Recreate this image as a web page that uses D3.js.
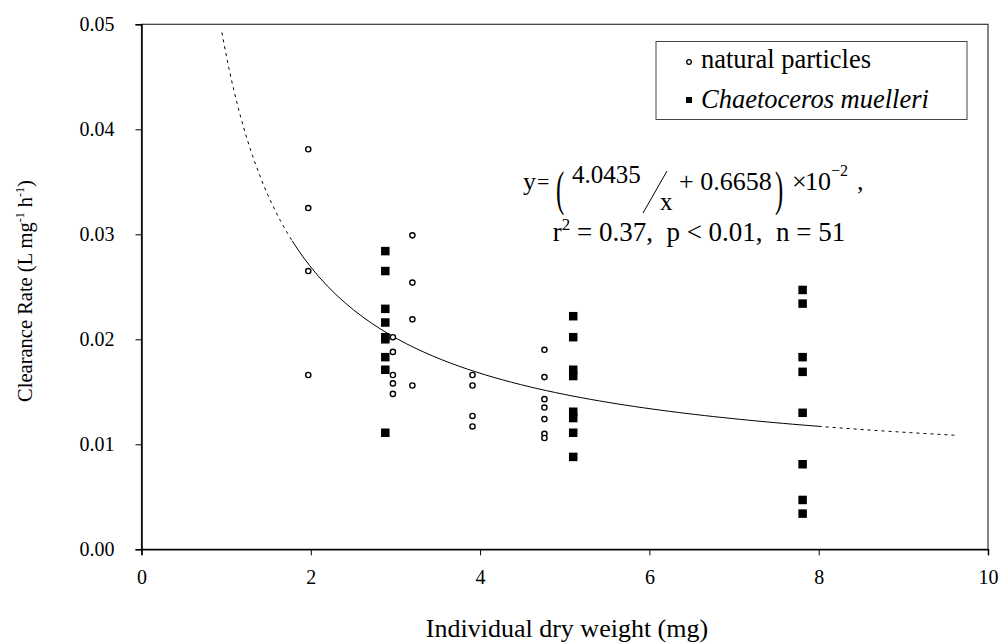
<!DOCTYPE html>
<html>
<head>
<meta charset="utf-8">
<script src="https://cdn.jsdelivr.net/npm/d3@7"></script>
<style>
  html, body { margin: 0; padding: 0; background: #fff; }
  svg { display: block; }
  svg text { font-family: "Liberation Serif", Tinos, "Times New Roman", "DejaVu Serif", serif; }
</style>
</head>
<body>
<svg id="chart" width="1002" height="644"></svg>
<script>
// Natural particles (open circles): dry weight (mg) and clearance rate (L mg-1 h-1)
const naturalX = [1.97, 1.97, 1.97, 1.97,
                  2.97, 2.97, 2.97, 2.97, 2.97,
                  3.20, 3.20, 3.20, 3.20,
                  3.91, 3.91, 3.91, 3.91,
                  4.76, 4.76, 4.76, 4.76, 4.76, 4.76, 4.76];
const naturalY = [0.0381, 0.0325, 0.0265, 0.0166,
                  0.0202, 0.0188, 0.0166, 0.0158, 0.0148,
                  0.0299, 0.0254, 0.0219, 0.0156,
                  0.0166, 0.0156, 0.0127, 0.0117,
                  0.0190, 0.0164, 0.0143, 0.0135, 0.0124, 0.0110, 0.0106];

// Chaetoceros muelleri (filled squares)
const chaetoX = [2.88, 2.88, 2.88, 2.88, 2.88, 2.88, 2.88, 2.88, 2.88,
                 5.10, 5.10, 5.10, 5.10, 5.10, 5.10, 5.10, 5.10,
                 7.81, 7.81, 7.81, 7.81, 7.81, 7.81, 7.81, 7.81];
const chaetoY = [0.0284, 0.0265, 0.0229, 0.0216, 0.0202, 0.0200, 0.0183, 0.0171, 0.0111,
                 0.0222, 0.0202, 0.0171, 0.0165, 0.0131, 0.0125, 0.0111, 0.0088,
                 0.0247, 0.0234, 0.0183, 0.0169, 0.0130, 0.0081, 0.0047, 0.0034];

// Fitted model y = (a / x + b) x 10^-2
const fitA = 4.0435;
const fitB = 0.6658;
const fitSolidRange = [1.78, 8.0];      // range of observed weights
const fitDashLeft = [0.95, 1.78];       // extrapolation
const fitDashRight = [8.0, 9.65];

const xTicks = [0, 2, 4, 6, 8, 10];
const yTicks = [0, 0.01, 0.02, 0.03, 0.04, 0.05];

const svg = d3.select("#chart");
const plotL = 141.5, plotR = 988, plotT = 24.3, plotB = 549.3;

const x = d3.scaleLinear().domain([0, 10]).range([plotL, plotR]);
const y = d3.scaleLinear().domain([0, 0.05]).range([plotB, plotT]);

// plot frame
svg.append("rect")
  .attr("x", plotL).attr("y", plotT)
  .attr("width", plotR - plotL).attr("height", plotB - plotT)
  .attr("fill", "none").attr("stroke", "#333").attr("stroke-width", 1.2);

// axes
const xAxis = svg.append("g")
  .attr("transform", `translate(0,${plotB})`)
  .call(d3.axisBottom(x).tickValues(xTicks).tickFormat(d3.format("d")).tickSize(6).tickPadding(15));
const yAxis = svg.append("g")
  .attr("transform", `translate(${plotL},0)`)
  .call(d3.axisLeft(y).tickValues(yTicks).tickFormat(d3.format(".2f")).tickSize(6).tickPadding(21));
[xAxis, yAxis].forEach(g => {
  g.attr("font-family", null).attr("font-size", null);
  g.select(".domain").attr("stroke", "#000").attr("stroke-width", 1.5);
  g.selectAll(".tick line").attr("stroke", "#000").attr("stroke-width", 1);
  g.selectAll(".tick text").attr("fill", "#000").style("font-size", "20px");
});

// axis titles
svg.append("text")
  .attr("x", 567).attr("y", 637)
  .attr("text-anchor", "middle")
  .style("font-size", "26px")
  .text("Individual dry weight (mg)");

const yTitle = svg.append("text")
  .attr("transform", "translate(32,291) rotate(-90)")
  .attr("text-anchor", "middle")
  .style("font-size", "20.5px");
yTitle.append("tspan").text("Clearance Rate (L mg");
yTitle.append("tspan").attr("dy", -8).style("font-size", "12px").text("-1");
yTitle.append("tspan").attr("dy", 8).text(" h");
yTitle.append("tspan").attr("dy", -8).style("font-size", "12px").text("-1");
yTitle.append("tspan").attr("dy", 8).text(")");

// fitted curve
const fit = v => (fitA / v + fitB) * 1e-2;
const line = d3.line().x(d => x(d)).y(d => y(fit(d)));
const sampleRange = ([a, b], n) => d3.range(n + 1).map(i => a + (b - a) * i / n);

svg.append("path")
  .attr("d", line(sampleRange(fitSolidRange, 60)))
  .attr("fill", "none").attr("stroke", "#000").attr("stroke-width", 1);
[fitDashLeft, fitDashRight].forEach(r => {
  svg.append("path")
    .attr("d", line(sampleRange(r, 30)))
    .attr("fill", "none").attr("stroke", "#000").attr("stroke-width", 1)
    .attr("stroke-dasharray", "3,4");
});

// points
const natural = naturalX.map((v, i) => ({ x: v, y: naturalY[i] }));
const chaeto = chaetoX.map((v, i) => ({ x: v, y: chaetoY[i] }));
const sq = 8.5;

svg.append("g").selectAll("rect").data(chaeto).join("rect")
  .attr("x", d => x(d.x) - sq / 2).attr("y", d => y(d.y) - sq / 2)
  .attr("width", sq).attr("height", sq).attr("fill", "#000");

svg.append("g").selectAll("circle").data(natural).join("circle")
  .attr("cx", d => x(d.x)).attr("cy", d => y(d.y)).attr("r", 2.6)
  .attr("fill", "#fff").attr("stroke", "#000").attr("stroke-width", 1.4);

// legend
const lg = svg.append("g");
lg.append("rect").attr("x", 656).attr("y", 41.5).attr("width", 311).attr("height", 78)
  .attr("fill", "#fff").attr("stroke", "#444").attr("stroke-width", 1);
lg.append("circle").attr("cx", 689).attr("cy", 62).attr("r", 2.3)
  .attr("fill", "#fff").attr("stroke", "#000").attr("stroke-width", 1.3);
lg.append("rect").attr("x", 686).attr("y", 97).attr("width", 6).attr("height", 6).attr("fill", "#000");
lg.append("text").attr("x", 701).attr("y", 68).style("font-size", "26.5px").text("natural particles");
lg.append("text").attr("x", 701).attr("y", 108).style("font-size", "26.5px")
  .style("font-style", "italic").text("Chaetoceros muelleri");

// regression equation
const eq = svg.append("g").style("font-size", "26px");
eq.append("text").attr("x", 523).attr("y", 190).text("y");
eq.append("text").attr("x", 537).attr("y", 189).style("font-size", "22px").text("=");
eq.append("text").attr("transform", "translate(556,205) scale(0.95,1.9)").text("(");
eq.append("text").attr("x", 572).attr("y", 183).style("font-size", "25px").text("4.0435");
eq.append("line").attr("x1", 643).attr("y1", 213).attr("x2", 667).attr("y2", 171)
  .attr("stroke", "#000").attr("stroke-width", 1);
eq.append("text").attr("x", 660).attr("y", 210).style("font-size", "25px").text("x");
eq.append("text").attr("x", 679).attr("y", 190).text("+ 0.6658");
eq.append("text").attr("transform", "translate(775,205) scale(0.95,1.9)").text(")");
eq.append("text").attr("x", 792).attr("y", 190).text("×");
eq.append("text").attr("x", 805).attr("y", 190).text("10");
eq.append("text").attr("x", 831).attr("y", 176).style("font-size", "16px").text("−2");
eq.append("text").attr("x", 857).attr("y", 190).text(",");

const eq2 = svg.append("text").attr("x", 699).attr("y", 241).attr("text-anchor", "middle")
  .style("font-size", "27px").attr("xml:space", "preserve");
eq2.append("tspan").text("r");
eq2.append("tspan").attr("dy", -11).style("font-size", "17px").text("2");
eq2.append("tspan").attr("dy", 11).text(" = 0.37,  p < 0.01,  n = 51");
</script>
</body>
</html>
